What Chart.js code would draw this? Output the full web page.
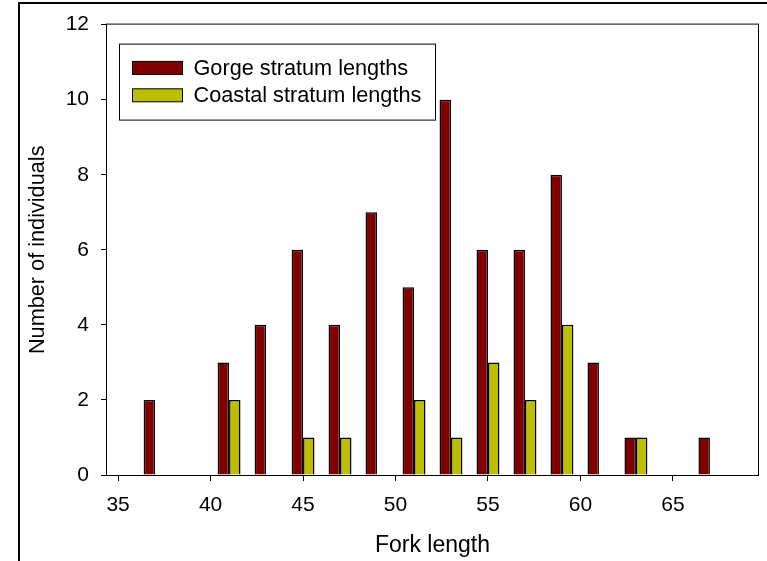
<!DOCTYPE html>
<html>
<head>
<meta charset="utf-8">
<title>Fork length by stratum</title>
<script src="https://cdn.jsdelivr.net/npm/chart.js@4.4.1/dist/chart.umd.min.js"></script>
<style>
  html, body { margin: 0; padding: 0; background: #fff; }
  canvas { display: block; }
</style>
</head>
<body>
<canvas id="fork-chart" width="767" height="561"></canvas>
<script>
// fork length bins and counts per stratum
const forkLengths = [37, 41, 43, 45, 47, 49, 51, 53, 55, 57, 59, 61, 63, 67];
const gorgeCounts = [2, 3, 4, 6, 4, 7, 5, 10, 6, 6, 8, 3, 1, 1];
const coastalCounts = [null, 2, null, 1, 1, null, 2, 1, 3, 2, 4, null, 1, null];
const xTickValues = [35, 40, 45, 50, 55, 60, 65];
const seriesNames = ["Gorge stratum lengths", "Coastal stratum lengths"];

const FONT = "'Liberation Sans', Arial, Helvetica, sans-serif";
Chart.defaults.font.family = FONT;
Chart.defaults.font.size = 21;
Chart.defaults.color = "#000";

function toPoints(values) {
  return forkLengths.map((len, i) => ({ x: len, y: values[i] }));
}

// outer page frame, plot box and the boxed legend
const framePlugin = {
  id: "frame",
  beforeDraw(chart) {
    const ctx = chart.ctx;
    ctx.save();
    ctx.strokeStyle = "#000";
    ctx.lineWidth = 2;
    ctx.beginPath();
    ctx.moveTo(19, chart.height);
    ctx.lineTo(19, 3);
    ctx.lineTo(chart.width, 3);
    ctx.stroke();
    ctx.restore();
  },
  afterDatasetsDraw(chart) {
    const { ctx, chartArea } = chart;
    ctx.save();
    ctx.strokeStyle = "#000";
    ctx.lineWidth = 1;
    ctx.strokeRect(chartArea.left - 0.5, chartArea.top - 0.5,
      chartArea.right - chartArea.left + 1, chartArea.bottom - chartArea.top + 1);

    // legend
    const bx = chartArea.left + 12.5;
    const by = chartArea.top + 19.5;
    ctx.fillStyle = "#fff";
    ctx.fillRect(bx, by, 316, 76);
    ctx.strokeRect(bx, by, 316, 76);

    ctx.font = "21.7px " + FONT;
    ctx.textBaseline = "middle";
    ctx.textAlign = "left";
    chart.data.datasets.forEach((ds, i) => {
      const cy = chartArea.top + 43.3 + i * 27.4;
      ctx.fillStyle = ds.backgroundColor;
      ctx.fillRect(bx + 13, cy - 6.5, 50, 13);
      ctx.strokeRect(bx + 13, cy - 6.5, 50, 13);
      ctx.fillStyle = "#000";
      ctx.fillText(ds.label, bx + 74, cy + 1.2);
    });
    ctx.restore();
  }
};

const tickGrid = {
  display: true,
  drawOnChartArea: false,
  offset: false,
  color: "#000",
  tickLength: 6,
  tickWidth: 1
};

new Chart(document.getElementById("fork-chart"), {
  type: "bar",
  data: {
    datasets: [
      {
        label: seriesNames[0],
        data: toPoints(gorgeCounts),
        backgroundColor: "#800000",
        borderColor: "#000",
        borderWidth: 1.5,
        barPercentage: 1,
        categoryPercentage: 0.62
      },
      {
        label: seriesNames[1],
        data: toPoints(coastalCounts),
        backgroundColor: "#BBBF00",
        borderColor: "#000",
        borderWidth: 1.5,
        barPercentage: 1,
        categoryPercentage: 0.62
      }
    ]
  },
  options: {
    responsive: false,
    animation: false,
    layout: { padding: { left: 0, top: 21, right: 9, bottom: 0 } },
    plugins: {
      legend: { display: false },
      tooltip: { enabled: false }
    },
    scales: {
      x: {
        type: "linear",
        min: 34.4,
        max: 69.6,
        offset: false,
        grid: tickGrid,
        border: { display: false },
        ticks: { padding: 12, color: "#000", maxRotation: 0 },
        afterBuildTicks(scale) { scale.ticks = xTickValues.map(v => ({ value: v })); },
        afterFit(scale) { scale.height = 86; },
        title: {
          display: true, text: "Fork length", color: "#000",
          font: { size: 23 }, padding: { top: 0, bottom: 2 }
        }
      },
      y: {
        min: 0,
        max: 12,
        grid: tickGrid,
        border: { display: false },
        ticks: { stepSize: 2, padding: 12, color: "#000" },
        afterFit(scale) { scale.width = 107; },
        title: {
          display: true, text: "Number of individuals", color: "#000",
          font: { size: 21.7 }, padding: { top: 25.5, bottom: 0 }
        }
      }
    }
  },
  plugins: [framePlugin]
});
</script>
</body>
</html>
